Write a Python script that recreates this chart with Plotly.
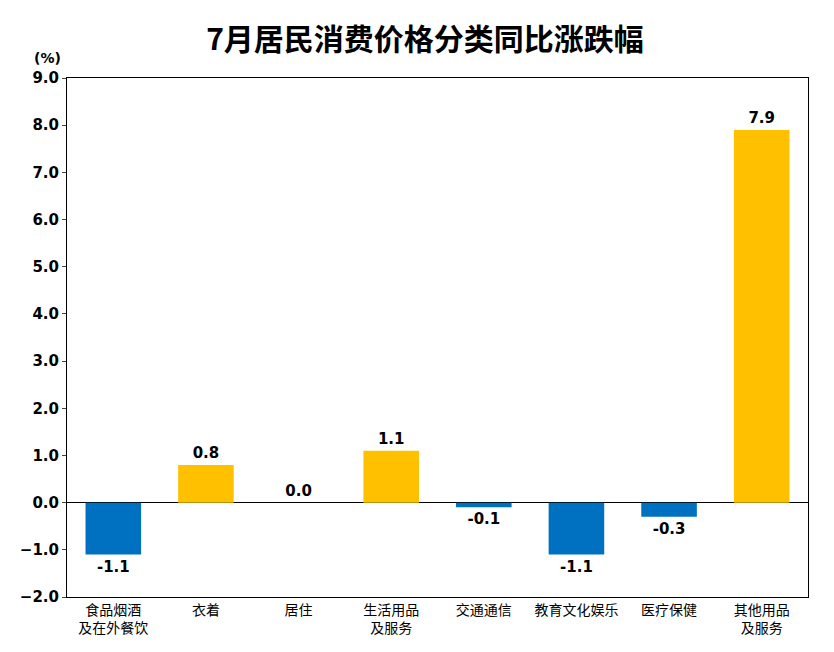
import plotly.graph_objects as go

categories = ["食品烟酒<br>及在外餐饮", "衣着", "居住", "生活用品<br>及服务", "交通通信", "教育文化娱乐", "医疗保健", "其他用品<br>及服务"]
values = [-1.1, 0.8, 0.0, 1.1, -0.1, -1.1, -0.3, 7.9]
colors = ["#0070C0" if v < 0 else "#FFC000" for v in values]
labels = ["%.1f" % v for v in values]

fig = go.Figure(go.Bar(
    x=categories, y=values, marker_color=colors, marker_line_width=0, width=0.6,
    text=labels, textposition="outside", cliponaxis=False,
    textfont=dict(size=15, color="black", family="DejaVu Sans"),
))
fig.update_traces(texttemplate="<b>%{text}</b>")
fig.update_layout(
    width=834, height=652,
    margin=dict(l=47, r=34, t=70, b=63),
    paper_bgcolor="white", plot_bgcolor="white",
    title=dict(text="<b>7月居民消费价格分类同比涨跌幅</b>", x=0.5, y=0.968, xanchor="center",
               font=dict(size=30, color="black", family="Noto Sans CJK SC")),
    showlegend=False,
    font=dict(family="Noto Sans CJK SC", color="black"),
    annotations=[dict(text="<b>(%)</b>", xref="paper", yref="paper", x=-0.005, y=1.02,
                      xanchor="right", yanchor="bottom", showarrow=False,
                      font=dict(size=14, family="DejaVu Sans"))],
)
fig.update_yaxes(range=[-2, 9], dtick=1, tickformat=".1f", showgrid=False, zeroline=True,
                 zerolinecolor="black", zerolinewidth=1, showline=True, linecolor="black", mirror=True,
                 ticks="outside", ticklen=4, tickfont=dict(size=15, family="DejaVu Sans"),
                 tickprefix="<b>", ticksuffix="</b>")
fig.update_xaxes(showline=True, linecolor="black", mirror=True, tickfont=dict(size=14))
fig.write_html("out.html")
